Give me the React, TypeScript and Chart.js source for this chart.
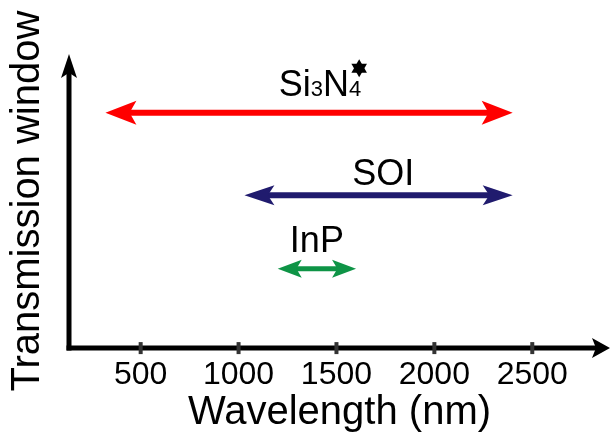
import React, { useEffect, useRef } from "react";
import { Chart, registerables } from "chart.js";

Chart.register(...registerables);

// ---- data ----
const materials = ["Si3N4", "SOI", "InP"];
const windowStartNm = [320, 1030, 1200];
const windowEndNm = [2400, 2400, 1600];
const rowLevel = [0.8, 0.52, 0.27];
const xTickValues = [500, 1000, 1500, 2000, 2500];
const xTitle = "Wavelength (nm)";
const yTitle = "Transmission window";

// ---- styles ----
const seriesColors = ["#ff0000", "#201b6e", "#0e9446"];
const arrowStyles = [
  { shaft: 6, headLen: 31, headHalf: 12 },
  { shaft: 6, headLen: 30, headHalf: 10 },
  { shaft: 5, headLen: 24, headHalf: 9 },
];
// label placement: left edge in nm, baseline offset (px) from arrow
const labelPlacement = [
  { xNm: 1205, dy: -16.5 },
  { xNm: 1580, dy: -10.5 },
  { xNm: 1262, dy: -17 },
];
const FONT = "'Liberation Sans', Arial, sans-serif";

function drawHead(ctx: CanvasRenderingContext2D, tx: number, y: number, dir: number, L: number, W: number) {
  ctx.beginPath();
  ctx.moveTo(tx, y);
  ctx.lineTo(tx + dir * L, y - W);
  ctx.lineTo(tx + dir * L * 0.78, y);
  ctx.lineTo(tx + dir * L, y + W);
  ctx.closePath();
  ctx.fill();
}

function drawHeadV(ctx: CanvasRenderingContext2D, x: number, ty: number, L: number, W: number) {
  ctx.beginPath();
  ctx.moveTo(x, ty);
  ctx.lineTo(x - W, ty + L);
  ctx.lineTo(x, ty + L * 0.78);
  ctx.lineTo(x + W, ty + L);
  ctx.closePath();
  ctx.fill();
}

function drawStar(ctx: CanvasRenderingContext2D, cx: number, cy: number, r: number) {
  for (const rot of [-Math.PI / 2, Math.PI / 2]) {
    ctx.beginPath();
    for (let k = 0; k < 3; k++) {
      const a = rot + (k * 2 * Math.PI) / 3;
      const px = cx + r * Math.cos(a);
      const py = cy + r * Math.sin(a);
      if (k === 0) ctx.moveTo(px, py);
      else ctx.lineTo(px, py);
    }
    ctx.closePath();
    ctx.fill();
  }
}

const axesPlugin = {
  id: "arrowAxes",
  beforeDatasetsDraw(chart: any) {
    const { ctx, chartArea, scales } = chart;
    const xs = scales.x;
    const { left, right, top, bottom } = chartArea;
    ctx.save();
    ctx.fillStyle = "#000";
    ctx.strokeStyle = "#000";
    ctx.lineWidth = 5;
    // y axis
    ctx.beginPath();
    ctx.moveTo(left, bottom + 2.5);
    ctx.lineTo(left, top + 18);
    ctx.stroke();
    drawHeadV(ctx, left, top, 24, 8);
    // x axis
    ctx.beginPath();
    ctx.moveTo(left - 2.5, bottom);
    ctx.lineTo(right - 14, bottom);
    ctx.stroke();
    drawHead(ctx, right, bottom, -1, 18, 10);
    // tick marks
    ctx.strokeStyle = "#333";
    ctx.lineWidth = 4;
    for (const v of xTickValues) {
      const px = xs.getPixelForValue(v);
      ctx.beginPath();
      ctx.moveTo(px, bottom - 6);
      ctx.lineTo(px, bottom + 6);
      ctx.stroke();
    }
    ctx.restore();
  },
};

const arrowPlugin = {
  id: "windowArrows",
  afterDatasetsDraw(chart: any) {
    const { ctx, scales } = chart;
    const xs = scales.x;
    const ys = scales.y;
    chart.data.datasets.forEach((ds: any, i: number) => {
      const p0 = ds.data[0];
      const p1 = ds.data[1];
      const x0 = xs.getPixelForValue(p0.x);
      const x1 = xs.getPixelForValue(p1.x);
      const y = ys.getPixelForValue(p0.y);
      const st = arrowStyles[i];
      ctx.save();
      ctx.fillStyle = ds.borderColor;
      ctx.strokeStyle = ds.borderColor;
      ctx.lineWidth = st.shaft;
      ctx.beginPath();
      ctx.moveTo(x0 + st.headLen * 0.7, y);
      ctx.lineTo(x1 - st.headLen * 0.7, y);
      ctx.stroke();
      drawHead(ctx, x0, y, 1, st.headLen, st.headHalf);
      drawHead(ctx, x1, y, -1, st.headLen, st.headHalf);

      // label
      const lp = labelPlacement[i];
      const lx = xs.getPixelForValue(lp.xNm);
      const ly = y + lp.dy;
      ctx.fillStyle = "#000";
      ctx.textBaseline = "alphabetic";
      ctx.textAlign = "left";
      const text: string = ds.label;
      let cx = lx;
      for (const ch of text) {
        const isDigit = /[0-9]/.test(ch);
        ctx.font = `${isDigit ? 22 : 36}px ${FONT}`;
        ctx.fillText(ch, cx, ly);
        cx += ctx.measureText(ch).width;
      }
      if (text === "Si3N4") {
        drawStar(ctx, cx - 2, ly - 28, 9);
      }
      ctx.restore();
    });
  },
};

export default function App() {
  const ref = useRef<HTMLCanvasElement>(null);
  useEffect(() => {
    if (!ref.current) return;
    const chart = new Chart(ref.current, {
      type: "line",
      data: {
        datasets: materials.map((m, i) => ({
          label: m,
          data: [
            { x: windowStartNm[i], y: rowLevel[i] },
            { x: windowEndNm[i], y: rowLevel[i] },
          ],
          borderColor: seriesColors[i],
          backgroundColor: seriesColors[i],
          showLine: false,
          pointRadius: 0,
        })),
      },
      options: {
        responsive: false,
        animation: false,
        events: [],
        layout: { padding: { left: 2, top: 54, right: 0, bottom: -1.5 } },
        plugins: { legend: { display: false }, tooltip: { enabled: false } },
        scales: {
          x: {
            type: "linear",
            min: 134,
            max: 2897,
            afterBuildTicks: (scale: any) => {
              scale.ticks = xTickValues.map((v) => ({ value: v }));
            },
            grid: { display: false, drawTicks: false },
            border: { display: false },
            ticks: {
              color: "#000",
              font: { family: FONT, size: 32 },
              padding: 8,
              maxRotation: 0,
              autoSkip: false,
              callback: (v: any) => String(v),
            },
            title: {
              display: true,
              text: xTitle,
              color: "#000",
              font: { family: FONT, size: 40 },
              padding: { top: -14, bottom: 0 },
            },
          },
          y: {
            type: "linear",
            min: 0,
            max: 1,
            grid: { display: false, drawTicks: false },
            border: { display: false },
            ticks: { display: false },
            title: {
              display: true,
              text: yTitle,
              color: "#000",
              font: { family: FONT, size: 40 },
              padding: { top: 2, bottom: 17 },
            },
          },
        },
      },
      plugins: [axesPlugin, arrowPlugin],
    } as any);
    return () => chart.destroy();
  }, []);
  return (
    <div style={{ position: "fixed", left: 0, top: 0, width: 610, height: 435, background: "#fff" }}>
      <canvas ref={ref} width={610} height={435} />
    </div>
  );
}
